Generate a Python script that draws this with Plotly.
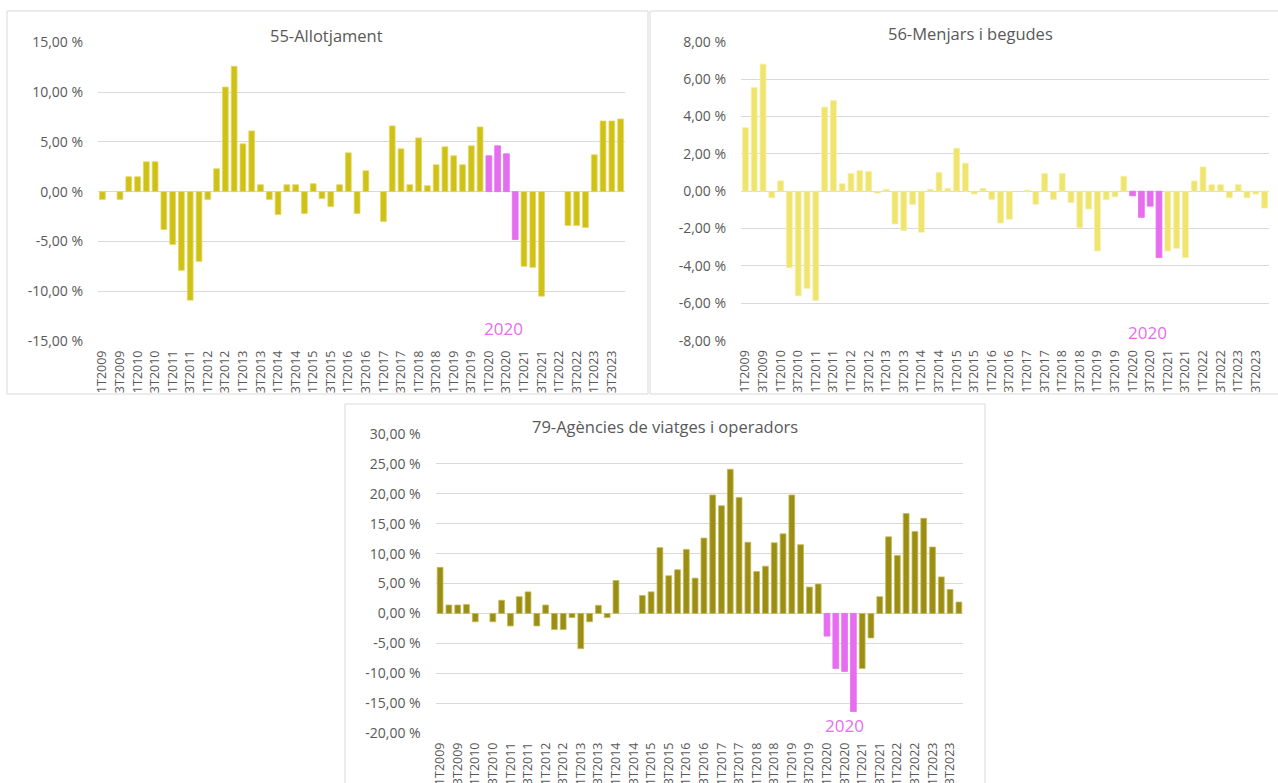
import plotly.graph_objects as go

W, H = 1278, 783

years = list(range(2009, 2024))
quarters = [f"{q}T{y}" for y in years for q in (1, 2, 3, 4)]
tick_labels = [q for i, q in enumerate(quarters) if i % 2 == 0]
highlight = ["1T2020", "2T2020", "3T2020", "4T2020"]

v55 = [-0.8, None, -0.8, 1.5, 1.5, 3.0, 3.0, -3.8, -5.3, -7.9,
       -10.9, -7.0, -0.8, 2.3, 10.5, 12.6, 4.8, 6.1, 0.7, -0.8,
       -2.3, 0.7, 0.7, -2.2, 0.8, -0.7, -1.5, 0.7, 3.9, -2.2,
       2.1, None, -3.0, 6.6, 4.3, 0.7, 5.4, 0.6, 2.7, 4.5,
       3.6, 2.7, 4.6, 6.5, 3.6, 4.6, 3.8, -4.8, -7.5, -7.6,
       -10.5, None, None, -3.4, -3.4, -3.6, 3.7, 7.1, 7.1, 7.3]
v56 = [3.4, 5.55, 6.8, -0.35, 0.55, -4.1, -5.6, -5.2, -5.85, 4.5,
       4.85, 0.4, 0.95, 1.1, 1.05, -0.1, 0.1, -1.75, -2.1, -0.7,
       -2.2, 0.1, 1.0, 0.15, 2.3, 1.5, -0.15, 0.15, -0.45, -1.7,
       -1.5, None, 0.05, -0.7, 0.95, -0.45, 0.95, -0.6, -1.95, -0.95,
       -3.2, -0.45, -0.3, 0.8, -0.25, -1.4, -0.8, -3.55, -3.2, -3.05,
       -3.55, 0.55, 1.3, 0.35, 0.35, -0.35, 0.35, -0.35, -0.15, -0.9]
v79 = [7.7, 1.4, 1.4, 1.5, -1.4, None, -1.4, 2.2, -2.1, 2.8,
       3.6, -2.1, 1.4, -2.7, -2.7, -0.7, -5.9, -1.4, 1.35, -0.7,
       5.5, None, None, 3.0, 3.6, 11.0, 6.3, 7.3, 10.7, 5.9,
       12.6, 19.8, 18.0, 24.1, 19.4, 11.9, 7.0, 7.9, 11.8, 13.3,
       19.8, 11.5, 4.4, 4.9, -3.8, -9.2, -9.7, -16.4, -9.2, -4.1,
       2.8, 12.8, 9.7, 16.7, 13.7, 15.9, 11.1, 6.1, 4.0, 1.9]

titles = ["55-Allotjament", "56-Menjars i begudes", "79-Agències de viatges i operadors"]
yticks55 = [-15, -10, -5, 0, 5, 10, 15]
yticks56 = [-8, -6, -4, -2, 0, 2, 4, 6, 8]
yticks79 = [-20, -15, -10, -5, 0, 5, 10, 15, 20, 25, 30]

PINK = "#E66DF0"
FONT = "Open Sans"
TXT = "#595959"
GRID = "#D9D9D9"


def fx(px):
    return px / W


def fy(py):
    return 1 - py / H


def fmt(v):
    return f"{v:.2f}".replace(".", ",") + " %"


panels = [
    dict(vals=v55, ticks=yticks55, color="#D0C116", line="#E4D865",
         x0=98, x1=625, y0=42.3, y1=341, title_xy=(327, 35), lab_xy=(503, 328),
         box=(7, 11, 648, 394)),
    dict(vals=v56, ticks=yticks56, color="#EFE46C", line="#F6EFA6",
         x0=741, x1=1269, y0=41.7, y1=340.7, title_xy=(970, 33), lab_xy=(1147, 332),
         box=(650, 11, 1290, 394)),
    dict(vals=v79, ticks=yticks79, color="#9B8E12", line="#C4BA5A",
         x0=435.7, x1=963.3, y0=434, y1=733, title_xy=(665, 426), lab_xy=(844, 725),
         box=(345, 404, 985, 800)),
]

fig = go.Figure()
shapes = []
annotations = []

for i, p in enumerate(panels):
    n = "" if i == 0 else str(i + 1)
    colors = [PINK if q in highlight else p["color"] for q in quarters]
    lines = [PINK if q in highlight else p["line"] for q in quarters]
    fig.add_trace(go.Bar(
        x=quarters, y=p["vals"], xaxis="x" + n, yaxis="y" + n,
        marker=dict(color=colors, line=dict(color=lines, width=0.8)),
        showlegend=False, hoverinfo="x+y",
    ))
    xa = dict(
        domain=[fx(p["x0"]), fx(p["x1"])], anchor="y" + n,
        type="category", categoryorder="array", categoryarray=quarters,
        tickvals=tick_labels, ticktext=tick_labels, tickangle=-90,
        tickfont=dict(family=FONT, size=12.5, color=TXT),
        showgrid=False, zeroline=False, showline=False, ticks="",
        ticklabelstandoff=6, fixedrange=True, automargin=False,
    )
    ya = dict(
        domain=[fy(p["y1"]), fy(p["y0"])], anchor="x" + n,
        range=[p["ticks"][0], p["ticks"][-1]],
        tickvals=p["ticks"], ticktext=[fmt(t) for t in p["ticks"]],
        tickfont=dict(family=FONT, size=14, color=TXT),
        showgrid=True, gridcolor=GRID, gridwidth=1,
        zeroline=True, zerolinecolor=GRID, zerolinewidth=1,
        showline=False, ticks="", ticklabelstandoff=14, fixedrange=True,
        automargin=False,
    )
    fig.layout["xaxis" + n] = xa
    fig.layout["yaxis" + n] = ya

    bx0, by0, bx1, by1 = p["box"]
    shapes.append(dict(type="rect", xref="paper", yref="paper",
                       x0=fx(bx0), x1=fx(bx1), y0=fy(by1), y1=fy(by0),
                       line=dict(color=GRID, width=1), fillcolor="rgba(0,0,0,0)",
                       layer="below"))
    annotations.append(dict(text=titles[i], xref="paper", yref="paper",
                            x=fx(p["title_xy"][0]), y=fy(p["title_xy"][1]),
                            xanchor="center", yanchor="middle", showarrow=False,
                            font=dict(family=FONT, size=16.5, color=TXT),
                            bgcolor="rgba(0,0,0,0)"))
    annotations.append(dict(text="2020", xref="paper", yref="paper",
                            x=fx(p["lab_xy"][0]), y=fy(p["lab_xy"][1]),
                            xanchor="center", yanchor="middle", showarrow=False,
                            font=dict(family=FONT, size=17, color=PINK)))

fig.update_layout(
    width=W, height=H, autosize=False,
    margin=dict(l=0, r=0, t=0, b=0, autoexpand=False),
    paper_bgcolor="white", plot_bgcolor="white",
    bargap=0.34,
    shapes=shapes, annotations=annotations,
)

fig.write_html("out.html", config={"displayModeBar": False},
               post_script="document.body.style.margin='0';document.body.style.overflow='hidden';")
